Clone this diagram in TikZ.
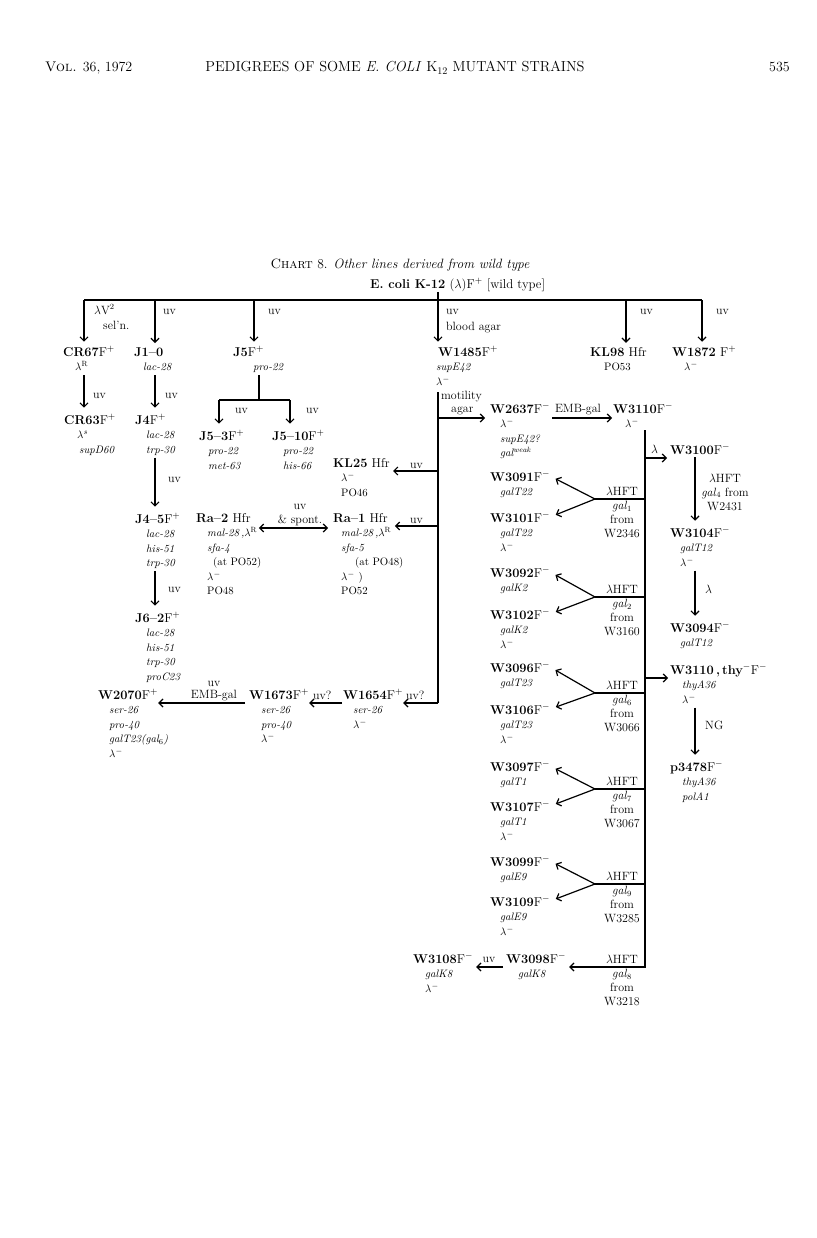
\RequirePackage{fix-cm}
\documentclass[tikz,border=0pt]{standalone}
\usepackage{fontspec}
\usepackage{tikz}
\usetikzlibrary{arrows.meta,positioning,calc}

\newcommand{\gl}[1]{\begin{tabular}[t]{@{}l@{}}#1\end{tabular}}
\newcommand{\gc}[1]{\begin{tabular}[t]{@{}c@{}}#1\end{tabular}}
\newcommand{\lmin}{$\lambda^-$}
\newcommand{\lres}{$\lambda^{\mathrm{R}}$}

\begin{document}
\begin{tikzpicture}[x=1pt, y=-1pt,
  nm/.style={inner sep=0pt, anchor=base west, font=\fontsize{12.8}{14.5}\selectfont},
  gt/.style={inner sep=0pt, anchor=base west, font=\fontsize{10.8}{14.5}\selectfont\itshape},
  lb/.style={inner sep=0pt, anchor=base west, font=\fontsize{12}{14}\selectfont},
  ln/.style={line width=1.2pt},
  arr/.style={line width=1.2pt, -{Straight Barb[length=4pt,width=8pt]}},
  arrs/.style={line width=1.2pt, {Straight Barb[length=4pt,width=8pt]}-{Straight Barb[length=4pt,width=8pt]}}
]
\useasboundingbox (0,0) rectangle (816,1238);

% running head
\node[lb, font=\fontsize{14}{16}\selectfont] (hvol) at (45,72) {\textsc{Vol.} 36, 1972};
\node[lb, anchor=base, font=\fontsize{14.5}{16}\selectfont] (htit) at (395,72) {PEDIGREES OF SOME \textit{E. COLI} K$_{12}$ MUTANT STRAINS};
\node[lb, anchor=base east, font=\fontsize{14}{16}\selectfont] (hpg) at (790,72) {535};

% chart title and root strain
\node[lb, anchor=base, font=\fontsize{13.5}{15}\selectfont] (ttl) at (400,269) {\textsc{Chart} 8. \textit{Other lines derived from wild type}};
\node[nm] (root) at (370,288) {\textbf{E. coli K-12} ($\lambda$)F$^+$ [wild type]};

% first row of strains
\node[nm] (cr67) at (63,356) {\textbf{CR67}F$^+$};
\node[gt] (cr67g) at (75,370.5) {\gl{\lres}};
\node[nm] (j10) at (134,356) {\textbf{J1--0}};
\node[gt] (j10g) at (143,370.5) {\gl{lac-28}};
\node[nm] (j5) at (233,356) {\textbf{J5}F$^+$};
\node[gt] (j5g) at (253,370.5) {\gl{pro-22}};
\node[nm] (w1485) at (438,356) {\textbf{W1485}F$^+$};
\node[gt] (w1485g) at (436,370.5) {\gl{supE42\\\lmin}};
\node[nm] (kl98) at (590,356) {\textbf{KL98} Hfr};
\node[gt] (kl98g) at (604,370.5) {\gl{\textup{PO53}}};
\node[nm] (w1872) at (672,356) {\textbf{W1872} F$^+$};
\node[gt] (w1872g) at (684,370.5) {\gl{\lmin}};

% left columns
\node[nm] (cr63) at (64,424) {\textbf{CR63}F$^+$};
\node[gt] (cr63g) at (77,438.5) {\gl{$\lambda^{s}$\\\hspace*{2pt}supD60}};
\node[nm] (j4) at (135,424) {\textbf{J4}F$^+$};
\node[gt] (j4g) at (146,438.5) {\gl{lac-28\\trp-30}};
\node[nm] (j45) at (135,523) {\textbf{J4--5}F$^+$};
\node[gt] (j45g) at (146,537.5) {\gl{lac-28\\his-51\\trp-30}};
\node[nm] (j62) at (135,622) {\textbf{J6--2}F$^+$};
\node[gt] (j62g) at (146,636.5) {\gl{lac-28\\his-51\\trp-30\\proC23}};
\node[nm] (j53) at (199,440) {\textbf{J5--3}F$^+$};
\node[gt] (j53g) at (208,454.5) {\gl{pro-22\\met-63}};
\node[nm] (j510) at (272,440) {\textbf{J5--10}F$^+$};
\node[gt] (j510g) at (283,454.5) {\gl{pro-22\\his-66}};

% Hfr strains
\node[nm] (kl25) at (333,467) {\textbf{KL25} Hfr};
\node[gt] (kl25g) at (341,481.5) {\gl{\lmin\\\textup{PO46}}};
\node[nm] (ra2) at (196,522) {\textbf{Ra--2} Hfr};
\node[gt] (ra2g) at (207,536.5) {\gl{mal-28\,,\lres\\sfa-4\\\hspace*{6pt}\textup{(at PO52)}\\\lmin\\\textup{PO48}}};
\node[nm] (ra1) at (333,522) {\textbf{Ra--1} Hfr};
\node[gt] (ra1g) at (341,536.5) {\gl{mal-28\,,\lres\\sfa-5\\\hspace*{14pt}\textup{(at PO48)}\\\lmin\ \textup{)}\\\textup{PO52}}};

% ser strains
\node[nm] (w1654) at (343,699) {\textbf{W1654}F$^+$};
\node[gt] (w1654g) at (353,713.5) {\gl{ser-26\\\lmin}};
\node[nm] (w1673) at (249,699) {\textbf{W1673}F$^+$};
\node[gt] (w1673g) at (261,713.5) {\gl{ser-26\\pro-40\\\lmin}};
\node[nm] (w2070) at (98,699) {\textbf{W2070}F$^+$};
\node[gt] (w2070g) at (109,713.5) {\gl{ser-26\\pro-40\\galT23(gal$_6$)\\\lmin}};

% motility line
\node[nm] (w2637) at (490,413) {\textbf{W2637}F$^-$};
\node[gt] (w2637g) at (500,427.5) {\gl{\lmin\\supE42?\\gal$^{\mathit{weak}}$}};
\node[nm] (w3110) at (613,413) {\textbf{W3110}F$^-$};
\node[gt] (w3110g) at (625,427.5) {\gl{\lmin}};

% right column
\node[nm] (w3100) at (670,454) {\textbf{W3100}F$^-$};
\node[nm] (w3104) at (670,537) {\textbf{W3104}F$^-$};
\node[gt] (w3104g) at (680,551.5) {\gl{galT12\\\lmin}};
\node[nm] (w3094) at (670,632) {\textbf{W3094}F$^-$};
\node[gt] (w3094g) at (680,646.5) {\gl{galT12}};
\node[nm] (w3110t) at (670,674) {\textbf{W3110\,,\,thy}$^-$F$^-$};
\node[gt] (w3110tg) at (682,688.5) {\gl{thyA36\\\lmin}};
\node[nm] (p3478) at (670,771) {\textbf{p3478}F$^-$};
\node[gt] (p3478g) at (682,785.5) {\gl{thyA36\\polA1}};

% lambda HFT transductants
\node[nm] (w3091) at (490,481) {\textbf{W3091}F$^-$};
\node[gt] (w3091g) at (500,495.5) {\gl{galT22}};
\node[nm] (w3101) at (490,522) {\textbf{W3101}F$^-$};
\node[gt] (w3101g) at (500,536.5) {\gl{galT22\\\lmin}};
\node[nm] (w3092) at (490,577) {\textbf{W3092}F$^-$};
\node[gt] (w3092g) at (500,591.5) {\gl{galK2}};
\node[nm] (w3102) at (490,619) {\textbf{W3102}F$^-$};
\node[gt] (w3102g) at (500,633.5) {\gl{galK2\\\lmin}};
\node[nm] (w3096) at (490,672) {\textbf{W3096}F$^-$};
\node[gt] (w3096g) at (500,686.5) {\gl{galT23}};
\node[nm] (w3106) at (490,714) {\textbf{W3106}F$^-$};
\node[gt] (w3106g) at (500,728.5) {\gl{galT23\\\lmin}};
\node[nm] (w3097) at (490,771) {\textbf{W3097}F$^-$};
\node[gt] (w3097g) at (500,785.5) {\gl{galT1}};
\node[nm] (w3107) at (490,811) {\textbf{W3107}F$^-$};
\node[gt] (w3107g) at (500,825.5) {\gl{galT1\\\lmin}};
\node[nm] (w3099) at (490,866) {\textbf{W3099}F$^-$};
\node[gt] (w3099g) at (500,880.5) {\gl{galE9}};
\node[nm] (w3109) at (490,906) {\textbf{W3109}F$^-$};
\node[gt] (w3109g) at (500,920.5) {\gl{galE9\\\lmin}};
\node[nm] (w3098) at (506,963) {\textbf{W3098}F$^-$};
\node[gt] (w3098g) at (518,977.5) {\gl{galK8}};
\node[nm] (w3108) at (413,963) {\textbf{W3108}F$^-$};
\node[gt] (w3108g) at (425,977.5) {\gl{galK8\\\lmin}};

% branch points
\coordinate (k0) at (438,292);
\coordinate (t1) at (84,300);
\coordinate (t2) at (155,300);
\coordinate (t3) at (254,300);
\coordinate (t5) at (626,300);
\coordinate (t6) at (702,300);
\coordinate (s0) at (259,400);
\coordinate (s1) at (219,400);
\coordinate (s2) at (290,400);
\coordinate (m0) at (438,392);
\coordinate (m1) at (438,418);
\coordinate (m2) at (438,471);
\coordinate (m3) at (438,526);
\coordinate (m4) at (438,703);
\coordinate (v0) at (645,430);
\coordinate (v1) at (645,458);
\coordinate (v2) at (645,678);
\coordinate (v9) at (645,967);
\coordinate (rc) at (695,460);
\coordinate (f1) at (595,499);
\coordinate (f2) at (595,597);
\coordinate (f3) at (595,693);
\coordinate (f4) at (595,789);
\coordinate (f5) at (595,884);

% trunk from wild type
\draw[ln] (t1) -- (t6);
\draw[arr, shorten >=4pt] (k0) -- (k0 |- w1485.north);
\draw[arr, shorten >=4pt] (t1) -- (t1 |- cr67.north);
\draw[arr, shorten >=4pt] (t2) -- (t2 |- j10.north);
\draw[arr, shorten >=4pt] (t3) -- (t3 |- j5.north);
\draw[arr, shorten >=4pt] (t5) -- (t5 |- kl98.north);
\draw[arr, shorten >=4pt] (t6) -- (t6 |- w1872.north);
\node[lb] (lvs) at (94,314) {$\lambda$V$^{2}$};
\node[lb] (lsel) at (103,329) {sel'n.};
\node[lb] (luv1) at (163,314) {uv};
\node[lb] (luv2) at (268,314) {uv};
\node[lb] (luv3) at (446,314) {uv};
\node[lb] (lblood) at (446,330) {blood agar};
\node[lb] (luv4) at (640,314) {uv};
\node[lb] (luv5) at (716,314) {uv};

% left lines
\draw[arr, shorten >=6pt] (t1 |- cr67g.south) -- (t1 |- cr63.north);
\node[lb] (luv6) at (93,398) {uv};
\draw[arr, shorten >=6pt] (t2 |- j10g.south) -- (t2 |- j4.north);
\node[lb] (luv7) at (165,398) {uv};
\draw[arr, shorten >=6pt] (t2 |- j4g.south) -- (t2 |- j45.north);
\node[lb] (luv8) at (168,482) {uv};
\draw[arr, shorten >=6pt] (t2 |- j45g.south) -- (t2 |- j62.north);
\node[lb] (luv9) at (168,592) {uv};
\draw[ln] (s0 |- j5g.south) -- (s0);
\draw[ln] (s1) -- (s2);
\draw[arr, shorten >=6pt] (s1) -- (s1 |- j53.north);
\draw[arr, shorten >=6pt] (s2) -- (s2 |- j510.north);
\node[lb] (luv10) at (235,413) {uv};
\node[lb] (luv11) at (306,413) {uv};

% W1485 descendants
\draw[ln] (m0) -- (m4);
\draw[arr] (m4) -- (m4 -| w1654.east);
\node[lb] (luq1) at (406,699.5) {uv?};
\draw[arr, shorten >=5pt] (m1) -- (m1 -| w2637.west);
\node[lb] (lmot) at (441,399.5) {motility};
\node[lb] (lagar) at (451,412.5) {agar};
\draw[arr, shorten >=3pt] (m2) -- (m2 -| kl25.east);
\node[lb] (luv12) at (410,468) {uv};
\draw[arr] (m3) -- ([xshift=7pt]m3 -| ra1.east);
\node[lb] (luv13) at (410,523) {uv};
\draw[arrs] ([shift={(8pt,-6pt)}]ra2.base east) -- ([shift={(-5pt,-6pt)}]ra1.base west);
\node[lb, anchor=base] (luv14) at (300,509) {uv};
\node[lb, anchor=base] (lspont) at (300,523) {\& spont.};
\draw[arr, shorten <=1pt] ([yshift=-4pt]w1654.base west) -- ([yshift=-4pt]w1673.base east);
\node[lb] (luq2) at (313,699.5) {uv?};
\draw[arr, shorten <=4pt] ([yshift=-4pt]w1673.base west) -- ([yshift=-4pt]w2070.base east);
\node[lb, anchor=base] (luv15) at (214,686.5) {uv};
\node[lb, anchor=base] (lemb1) at (214,698.5) {EMB-gal};

% W2637 and W3110
\draw[arr, shorten <=2pt, shorten >=1pt] ([yshift=-5pt]w2637.base east) -- ([yshift=-5pt]w3110.base west);
\node[lb, anchor=base] (lemb2) at (578,412) {EMB-gal};
\draw[arr, shorten >=3pt] (v0) -- (v9) -- (v9 -| w3098.east);
\node[lb, anchor=base] (lhft6) at (622,963.5) {\gc{$\lambda$HFT\\\textit{gal}$_8$\\from\\W3218}};
\draw[arr, shorten <=3pt, shorten >=3pt] ([yshift=-4pt]w3098.base west) -- ([yshift=-4pt]w3108.base east);
\node[lb, anchor=base] (luv16) at (489,962) {uv};

% right column
\draw[arr, shorten >=3pt] (v1) -- (v1 -| w3100.west);
\node[lb] (llam1) at (651,453) {$\lambda$};
\draw[arr, shorten <=3pt, shorten >=6pt] (rc |- w3100.south) -- (rc |- w3104.north);
\node[lb, anchor=base] (lhft0) at (725,482) {\gc{$\lambda$HFT\\\textit{gal}$_4$ from\\W2431}};
\draw[arr, shorten >=6pt] (rc |- w3104g.south) -- (rc |- w3094.north);
\node[lb] (llam2) at (705,593) {$\lambda$};
\draw[arr, shorten >=2pt] (v2) -- (v2 -| w3110t.west);
\draw[arr, shorten >=6pt] (rc |- w3110tg.south) -- (rc |- p3478.north);
\node[lb] (lng) at (705,729) {NG};

% lambda HFT fans
\draw[ln] (v0 |- f1) -- (f1);
\draw[arr, shorten >=6pt] (f1) -- (w3091.east);
\draw[arr, shorten >=6pt] (f1) -- (w3101.east);
\node[lb, anchor=base] (lhft1) at (622,495.5) {\gc{$\lambda$HFT\\\textit{gal}$_1$\\from\\W2346}};
\draw[ln] (v0 |- f2) -- (f2);
\draw[arr, shorten >=6pt] (f2) -- (w3092.east);
\draw[arr, shorten >=6pt] (f2) -- (w3102.east);
\node[lb, anchor=base] (lhft2) at (622,593.5) {\gc{$\lambda$HFT\\\textit{gal}$_2$\\from\\W3160}};
\draw[ln] (v0 |- f3) -- (f3);
\draw[arr, shorten >=6pt] (f3) -- (w3096.east);
\draw[arr, shorten >=6pt] (f3) -- (w3106.east);
\node[lb, anchor=base] (lhft3) at (622,689.5) {\gc{$\lambda$HFT\\\textit{gal}$_6$\\from\\W3066}};
\draw[ln] (v0 |- f4) -- (f4);
\draw[arr, shorten >=6pt] (f4) -- (w3097.east);
\draw[arr, shorten >=6pt] (f4) -- (w3107.east);
\node[lb, anchor=base] (lhft4) at (622,785.5) {\gc{$\lambda$HFT\\\textit{gal}$_7$\\from\\W3067}};
\draw[ln] (v0 |- f5) -- (f5);
\draw[arr, shorten >=6pt] (f5) -- (w3099.east);
\draw[arr, shorten >=6pt] (f5) -- (w3109.east);
\node[lb, anchor=base] (lhft5) at (622,880.5) {\gc{$\lambda$HFT\\\textit{gal}$_9$\\from\\W3285}};
\end{tikzpicture}
\end{document}
